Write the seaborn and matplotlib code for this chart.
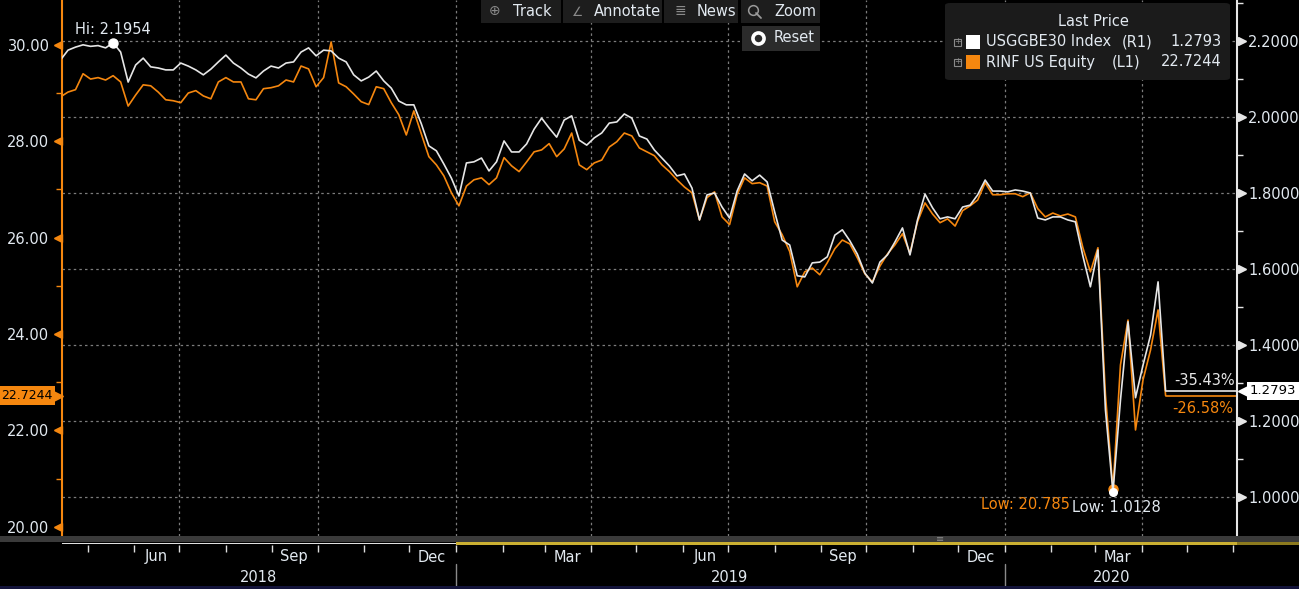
import numpy as np
import pandas as pd
import matplotlib
matplotlib.use("Agg")
import matplotlib.pyplot as plt
import matplotlib.transforms as mtransforms
from matplotlib.patches import Rectangle, FancyBboxPatch
from matplotlib.lines import Line2D
import seaborn as sns

# ---------------- data ----------------
START_DATE = "2018-04-13"
STEP = "5D"

usggbe30 = [
    2.150, 2.176, 2.184, 2.190, 2.186, 2.188, 2.182, 2.1954, 2.171, 2.092,
    2.137, 2.155, 2.132, 2.129, 2.124, 2.124, 2.142, 2.134, 2.124, 2.111,
    2.126, 2.145, 2.163, 2.142, 2.129, 2.113, 2.103, 2.121, 2.134, 2.129,
    2.142, 2.145, 2.171, 2.182, 2.161, 2.176, 2.174, 2.155, 2.145, 2.111,
    2.095, 2.105, 2.121, 2.095, 2.076, 2.042, 2.032, 2.032, 1.982, 1.924,
    1.911, 1.876, 1.839, 1.792, 1.879, 1.882, 1.892, 1.858, 1.882, 1.937,
    1.908, 1.908, 1.929, 1.968, 1.997, 1.971, 1.947, 1.992, 2.003, 1.939,
    1.926, 1.945, 1.958, 1.984, 1.987, 2.008, 1.997, 1.950, 1.942, 1.913,
    1.892, 1.871, 1.845, 1.850, 1.813, 1.729, 1.795, 1.800, 1.763, 1.734,
    1.805, 1.850, 1.832, 1.847, 1.829, 1.750, 1.676, 1.663, 1.582, 1.579,
    1.616, 1.618, 1.632, 1.689, 1.703, 1.674, 1.639, 1.589, 1.563, 1.618,
    1.637, 1.671, 1.708, 1.637, 1.729, 1.797, 1.761, 1.732, 1.737, 1.732,
    1.763, 1.768, 1.795, 1.834, 1.805, 1.805, 1.803, 1.808, 1.805, 1.800,
    1.734, 1.729, 1.737, 1.737, 1.729, 1.724, 1.634, 1.553, 1.650, 1.229,
    1.0128, 1.255, 1.461, 1.261, 1.347, 1.426, 1.566, 1.2793,
]

rinf = [
    28.92, 29.02, 29.07, 29.40, 29.29, 29.32, 29.27, 29.36, 29.23, 28.73,
    28.96, 29.17, 29.15, 29.02, 28.86, 28.84, 28.80, 29.00, 29.05, 28.94,
    28.88, 29.23, 29.32, 29.23, 29.23, 28.88, 28.86, 29.09, 29.11, 29.15,
    29.27, 29.23, 29.56, 29.50, 29.13, 29.32, 30.06, 29.21, 29.13, 28.98,
    28.82, 28.76, 29.13, 29.09, 28.80, 28.55, 28.13, 28.63, 28.15, 27.68,
    27.51, 27.28, 26.93, 26.66, 27.07, 27.20, 27.24, 27.10, 27.24, 27.66,
    27.49, 27.37, 27.57, 27.78, 27.82, 27.95, 27.68, 27.84, 28.17, 27.51,
    27.41, 27.55, 27.61, 27.88, 27.99, 28.17, 28.11, 27.86, 27.78, 27.70,
    27.51, 27.37, 27.20, 27.05, 26.93, 26.37, 26.83, 26.95, 26.43, 26.27,
    26.89, 27.24, 27.12, 27.14, 27.07, 26.33, 26.06, 25.71, 24.98, 25.29,
    25.37, 25.23, 25.48, 25.77, 25.95, 25.87, 25.58, 25.25, 25.08, 25.41,
    25.66, 25.85, 26.08, 25.68, 26.33, 26.72, 26.49, 26.31, 26.39, 26.24,
    26.56, 26.66, 26.78, 27.14, 26.89, 26.89, 26.91, 26.91, 26.85, 26.93,
    26.60, 26.43, 26.51, 26.45, 26.49, 26.43, 25.79, 25.29, 25.79, 22.74,
    20.785, 23.36, 24.29, 22.01, 23.05, 23.67, 24.50, 22.7244,
]

LAST_USGG = 1.2793
LAST_RINF = 22.7244
PCT_USGG = "-35.43%"
PCT_RINF = "-26.58%"

LEFT_TICKS = [20, 22, 24, 26, 28, 30]
LEFT_MINOR = [21, 23, 25, 27, 29]
RIGHT_TICKS = [1.0, 1.2, 1.4, 1.6, 1.8, 2.0, 2.2]
RIGHT_MINOR = [1.1, 1.3, 1.5, 1.7, 1.9, 2.1, 2.3]

MONTH_LABELS = ["Jun", "Sep", "Dec", "Mar", "Jun", "Sep", "Dec", "Mar"]
MONTH_LABEL_DATES = ["2018-06-16", "2018-09-15", "2018-12-16", "2019-03-16",
                     "2019-06-16", "2019-09-15", "2019-12-16", "2020-03-16"]
YEAR_LABELS = ["2018", "2019", "2020"]
YEAR_LABEL_DATES = ["2018-08-23", "2019-07-02", "2020-03-12"]
YEAR_STARTS = ["2019-01-01", "2020-01-01"]

LEGEND_TITLE = "Last Price"
LEGEND_NAMES = ["USGGBE30 Index", "RINF US Equity"]
LEGEND_AXES = ["(R1)", "(L1)"]

# ---------------- style ----------------
ORANGE = "#f5870f"
WHITE = "#e6e6e6"
TXT = "#e2e9f0"
GRID = "#7c7c7c"
BTN = "#1d1d1d"

sns.set_style("dark")
plt.rcParams["font.family"] = ["DejaVu Sans"]

dates = pd.date_range(START_DATE, periods=len(usggbe30), freq=STEP)
df = pd.DataFrame({"date": dates, "USGGBE30": usggbe30, "RINF": rinf})

W, H = 1299, 589
fig = plt.figure(figsize=(W / 100, H / 100), dpi=100, facecolor="black")


def fx(px):
    return px / W


def fy(py):
    return 1 - py / H


L, R, T, B = 62, 1237, 0, 536
ax = fig.add_axes([fx(L), fy(B), fx(R - L), (B - T) / H])
ax.set_facecolor("black")
ax2 = ax.twinx()

XMIN = pd.Timestamp("2018-04-14")
XMAX = pd.Timestamp("2020-06-03 12:00")
LEFT_LIM = (19.81, 30.93)
RIGHT_LIM = (0.897, 2.308)

# grid (drawn on the bottom axes so it stays under the lines)
for v in RIGHT_TICKS:
    yv = LEFT_LIM[0] + (v - RIGHT_LIM[0]) / (RIGHT_LIM[1] - RIGHT_LIM[0]) * (LEFT_LIM[1] - LEFT_LIM[0])
    ax.axhline(yv, color=GRID, lw=0.9, ls=(0, (2, 2.5)), zorder=0)
for d in pd.date_range("2018-07-01", "2020-04-01", freq="QS"):
    ax.axvline(d, color=GRID, lw=0.9, ls=(0, (2, 2.5)), zorder=0)

sns.lineplot(data=df, x="date", y="RINF", ax=ax, color=ORANGE, linewidth=1.2, zorder=3)
sns.lineplot(data=df, x="date", y="USGGBE30", ax=ax2, color=WHITE, linewidth=1.2, zorder=3)

# last-price extensions
ax.plot([dates[-1], XMAX], [LAST_RINF, LAST_RINF], color=ORANGE, lw=1.2, zorder=3)
ax2.plot([dates[-1], XMAX], [LAST_USGG, LAST_USGG], color=WHITE, lw=1.2, zorder=3)

ax.set_xlim(XMIN, XMAX)
ax2.set_xlim(XMIN, XMAX)
ax.set_ylim(*LEFT_LIM)
ax2.set_ylim(*RIGHT_LIM)
for a in (ax, ax2):
    a.set_xlabel("")
    a.set_ylabel("")
    a.grid(False)
    a.tick_params(axis="x", bottom=False, labelbottom=False)
    for s in a.spines.values():
        s.set_visible(False)

ax.spines["left"].set_visible(True)
ax.spines["left"].set_color(ORANGE)
ax.spines["left"].set_linewidth(1.5)
ax2.spines["right"].set_visible(True)
ax2.spines["right"].set_color(WHITE)
ax2.spines["right"].set_linewidth(1.5)

ax.set_yticks(LEFT_TICKS)
ax.set_yticklabels([f"{v:.2f}" for v in LEFT_TICKS])
ax.set_yticks(LEFT_MINOR, minor=True)
ax.tick_params(axis="y", which="major", length=0, pad=9, labelcolor=TXT, labelsize=10.5)
ax.tick_params(axis="y", which="minor", length=4, width=1, color=ORANGE, direction="out")

ax2.set_yticks(RIGHT_TICKS)
ax2.set_yticklabels([f"{v:.4f}" for v in RIGHT_TICKS])
ax2.set_yticks(RIGHT_MINOR, minor=True)
ax2.tick_params(axis="y", which="major", length=0, pad=8, labelcolor=TXT, labelsize=10.5)
ax2.tick_params(axis="y", which="minor", length=4, width=1, color=WHITE, direction="out")

blend_l = mtransforms.blended_transform_factory(ax.transAxes, ax.transData)
blend_r = mtransforms.blended_transform_factory(ax2.transAxes, ax2.transData)
ax.plot([-4.5 / (R - L)] * len(LEFT_TICKS), LEFT_TICKS, ls="none", marker="<",
        ms=5.5, color=ORANGE, transform=blend_l, clip_on=False)
ax2.plot([1 + 4.5 / (R - L)] * len(RIGHT_TICKS), RIGHT_TICKS, ls="none", marker=">",
         ms=5.5, color=WHITE, transform=blend_r, clip_on=False)

# last value boxes
ax2.annotate(f"{LAST_USGG:.4f}", xy=(1, LAST_USGG), xycoords=blend_r, xytext=(13, 0),
             textcoords="offset pixels", ha="left", va="center", color="black", fontsize=9.5,
             bbox=dict(boxstyle="square,pad=0.2", fc="white", ec="none"), annotation_clip=False)
ax2.plot([1 + 8 / (R - L)], [LAST_USGG], marker="<", ms=10, color="white",
         transform=blend_r, clip_on=False)
ax.annotate(f"{LAST_RINF:.4f}", xy=(0, LAST_RINF), xycoords=blend_l, xytext=(-10, 0),
            textcoords="offset pixels", ha="right", va="center", color="black", fontsize=9,
            bbox=dict(boxstyle="square,pad=0.25", fc=ORANGE, ec="none"), annotation_clip=False)
ax.plot([-6 / (R - L)], [LAST_RINF], marker=">", ms=10, color=ORANGE,
        transform=blend_l, clip_on=False)

# percent change labels
ax2.annotate(PCT_USGG, xy=(1, LAST_USGG), xycoords=blend_r, xytext=(-2, 10),
             textcoords="offset pixels", ha="right", va="center", color=WHITE, fontsize=10.5)
ax.annotate(PCT_RINF, xy=(1, LAST_RINF), xycoords=blend_l, xytext=(-4, -13),
            textcoords="offset pixels", ha="right", va="center", color=ORANGE, fontsize=10.5)

# hi / low markers
w = np.array(usggbe30)
o = np.array(rinf)
ih, il, ol = int(w.argmax()), int(w.argmin()), int(o.argmin())
ax.plot(dates[ol], o[ol], "o", color=ORANGE, ms=6.5, zorder=5)
ax2.plot(dates[ih], w[ih], "o", color="white", ms=6.5, zorder=5)
ax2.plot(dates[il], w[il], "o", color="white", ms=5.5, zorder=5)
ax2.annotate(f"Hi: {w[ih]:.4f}", xy=(dates[ih], w[ih]), xytext=(0, 13), textcoords="offset pixels",
             ha="center", va="center", color=TXT, fontsize=10.5)
ax2.annotate(f"Low: {w[il]:.4f}", xy=(dates[il], w[il]), xytext=(-41, -15), textcoords="offset pixels",
             ha="left", va="center", color=TXT, fontsize=10.5)
ax.annotate(f"Low: {o[ol]:.3f}", xy=(dates[ol], o[ol]), xytext=(-43, -15), textcoords="offset pixels",
            ha="right", va="center", color=ORANGE, fontsize=10.5)

# ---------------- legend box ----------------
fig.add_artist(FancyBboxPatch((fx(945), fy(80)), fx(285), (80 - 3) / H,
                              boxstyle="round,pad=0,rounding_size=0.004",
                              fc="#1b1b1b", ec="none", transform=fig.transFigure))
fig.text(fx(1093), fy(22), LEGEND_TITLE, ha="center", va="center", color=TXT, fontsize=10.5)
legend_vals = [f"{LAST_USGG:.4f}", f"{LAST_RINF:.4f}"]
legend_ax_x = [1122, 1112]
for k, (name, axn, val, col) in enumerate(zip(LEGEND_NAMES, LEGEND_AXES, legend_vals, ["white", ORANGE])):
    yc = 42 + 20 * k
    fig.add_artist(Rectangle((fx(954), fy(yc + 4)), fx(7), 7 / H, fc="none", ec="#8a8a8a",
                             lw=0.8, transform=fig.transFigure))
    fig.text(fx(957.5), fy(yc), "+", ha="center", va="center", color="#8a8a8a", fontsize=6)
    fig.add_artist(Rectangle((fx(966), fy(yc + 7)), fx(14), 14 / H, fc=col, ec="none",
                             transform=fig.transFigure))
    fig.text(fx(986), fy(yc), name, ha="left", va="center", color=TXT, fontsize=10.5)
    fig.text(fx(legend_ax_x[k]), fy(yc), axn, ha="left", va="center", color=TXT, fontsize=10.5)
    fig.text(fx(1222), fy(yc), val, ha="right", va="center", color=TXT, fontsize=10.5)

# ---------------- toolbar ----------------
buttons = [("Track", 481, 561, 513), ("Annotate", 563, 662, 594),
           ("News", 664, 738, 697), ("Zoom", 741, 820, 774)]
for label, x0, x1, xt in buttons:
    fig.add_artist(Rectangle((fx(x0), fy(23)), fx(x1 - x0), 23 / H, fc=BTN, ec="none",
                             transform=fig.transFigure))
    fig.text(fx(xt), fy(11), label, ha="left", va="center", color=TXT, fontsize=10.5)
fig.text(fx(495), fy(11), "⊕", ha="center", va="center", color="#8a8a8a", fontsize=10)
fig.text(fx(578), fy(12), "∠", ha="center", va="center", color="#8a8a8a", fontsize=9)
fig.text(fx(680), fy(11), "≣", ha="center", va="center", color="#8a8a8a", fontsize=10)
fig.add_artist(Line2D([fx(753)], [fy(10)], marker="o", ms=7, mfc="none", mec="#9a9a9a", mew=1.1,
                      transform=fig.transFigure))
fig.add_artist(Line2D([fx(756), fx(761)], [fy(13), fy(18)], color="#9a9a9a", lw=1.3,
                      transform=fig.transFigure))
fig.add_artist(Rectangle((fx(742), fy(51)), fx(78), 25 / H, fc="#2b2b2b", ec="none",
                         transform=fig.transFigure))
fig.add_artist(Line2D([fx(758)], [fy(38)], marker="o", ms=8, mfc="#2b2b2b", mec="white", mew=2.6,
                      transform=fig.transFigure))
fig.text(fx(774), fy(38), "Reset", ha="left", va="center", color=TXT, fontsize=10.5)

# ---------------- bottom scroll bar / date axis ----------------
fig.add_artist(Rectangle((0, fy(542)), 1, 6 / H, fc="#3a3a3a", ec="none", transform=fig.transFigure))
fig.text(fx(940), fy(539), "≡", ha="center", va="center", color="#8a8a8a", fontsize=7)
fig.add_artist(Rectangle((fx(456), fy(545)), fx(R - 456), 3 / H, fc="#cbb032", ec="none",
                         transform=fig.transFigure))
fig.add_artist(Rectangle((fx(L), fy(544)), fx(456 - L), 1.5 / H, fc="#e0e0e0", ec="none",
                         transform=fig.transFigure))
fig.add_artist(Rectangle((fx(R), fy(545)), fx(W - R), 3 / H, fc="#8c7a1e", ec="none",
                         transform=fig.transFigure))
fig.add_artist(Rectangle((0, 0), 1, 3.5 / H, fc="#13133a", ec="none", transform=fig.transFigure))

dax = fig.add_axes([fx(L), 0, fx(R - L), (H - 545) / H])
dax.set_facecolor("none")
dax.patch.set_visible(False)
dax.set_xlim(XMIN, XMAX)
dax.set_ylim(0, 1)
for s in dax.spines.values():
    s.set_visible(False)
dax.set_yticks([])
dax.set_xticks(pd.date_range("2018-05-01", "2020-06-01", freq="MS"))
dax.xaxis.set_ticks_position("top")
dax.tick_params(axis="x", direction="in", length=5, width=1, color="#dcdcdc",
                labeltop=False, labelbottom=False)
hh = H - 545
for lab, d in zip(MONTH_LABELS, MONTH_LABEL_DATES):
    dax.text(pd.Timestamp(d), (589 - 557) / hh, lab, ha="center", va="center", color=TXT, fontsize=10.5)
for lab, d in zip(YEAR_LABELS, YEAR_LABEL_DATES):
    dax.text(pd.Timestamp(d), (589 - 577) / hh, lab, ha="center", va="center", color=TXT, fontsize=10.5)
for d in YEAR_STARTS:
    dax.plot([pd.Timestamp(d)] * 2, [(589 - 564) / hh, (589 - 586) / hh], color="#8a8a8a", lw=1)

fig.savefig("out.png", dpi=100, facecolor="black")
